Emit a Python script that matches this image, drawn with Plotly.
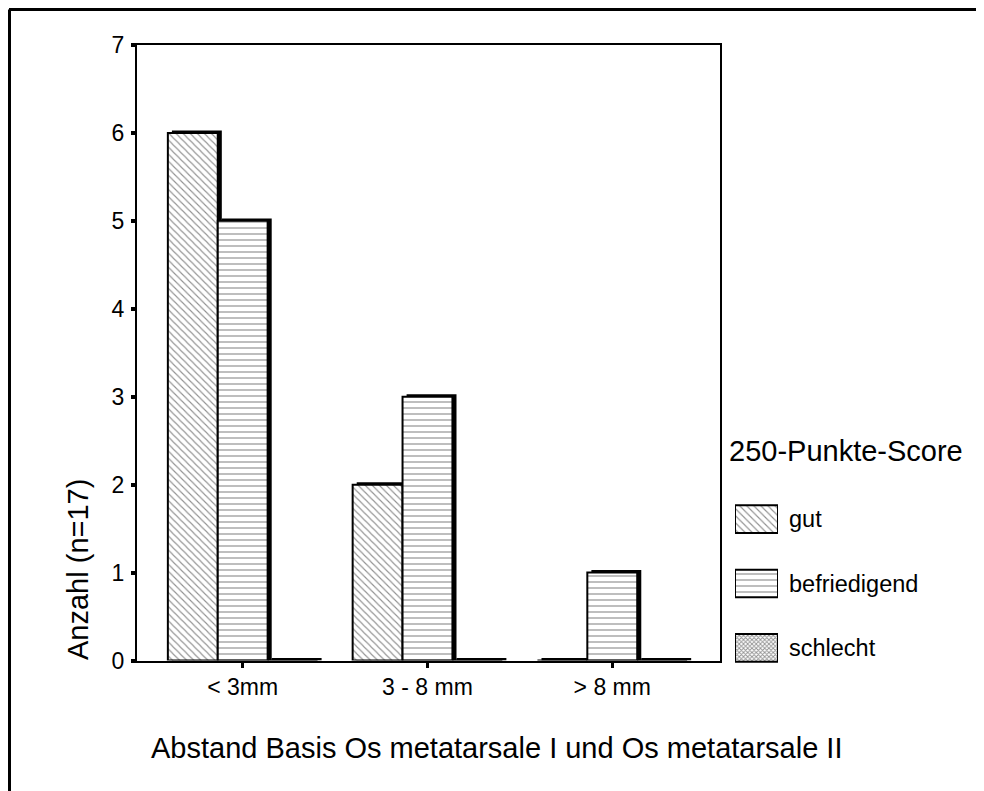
import plotly.graph_objects as go

# ---- data ----
categories = ["< 3mm", "3 - 8 mm", "> 8 mm"]
series_names = ["gut", "befriedigend", "schlecht"]
gut = [6, 2, 0]
befriedigend = [5, 3, 1]
schlecht = [0, 0, 0]
y_ticks = [0, 1, 2, 3, 4, 5, 6, 7]

values = {"gut": gut, "befriedigend": befriedigend, "schlecht": schlecht}

# page offset (body margin) compensation: figure drawn from (OFF, OFF)
OFF = 8
W, H = 984 - 2 * OFF, 791 - OFF
FONT = "Liberation Sans, Arial, sans-serif"


def fx(px):
    return (px - OFF) / W


def fy(py):
    return 1 - (py - OFF) / H


# plot frame in reference pixels
PX_L, PX_R, PX_T, PX_B = 137, 720, 45, 660.5

patterns = {
    "gut": dict(shape="\\", size=5, solidity=0.22, fgcolor="#222", bgcolor="white"),
    "befriedigend": dict(shape="-", size=6, solidity=0.2, fgcolor="#222", bgcolor="white"),
    "schlecht": dict(shape="x", size=3, solidity=0.5, fgcolor="#222", bgcolor="white"),
}

bar_w = 0.27
offsets = {"gut": -1.5 * bar_w, "befriedigend": -0.5 * bar_w, "schlecht": 0.5 * bar_w}
shadow_dx = 0.022
shadow_dy = 0.028

fig = go.Figure()

for name in series_names:
    fig.add_trace(go.Bar(
        x=[0, 1, 2], y=[v + shadow_dy for v in values[name]],
        offset=offsets[name] + shadow_dx, width=bar_w,
        marker=dict(color="black", line=dict(width=0)),
        showlegend=False, hoverinfo="skip", xaxis="x", yaxis="y",
    ))

for name in series_names:
    fig.add_trace(go.Bar(
        x=[0, 1, 2], y=values[name], name=name,
        offset=offsets[name], width=bar_w,
        marker=dict(color="white", pattern=patterns[name],
                    line=dict(color="black", width=2)),
        showlegend=False, xaxis="x", yaxis="y",
    ))

for name in series_names:
    fig.add_trace(go.Bar(
        x=[1], y=[name], orientation="h", base=0, width=0.43,
        marker=dict(color="white", pattern=patterns[name],
                    line=dict(color="black", width=2)),
        showlegend=False, hoverinfo="skip", xaxis="x3", yaxis="y3",
    ))

fig.update_layout(
    width=W, height=H,
    margin=dict(l=0, r=0, t=0, b=0, pad=0, autoexpand=False),
    paper_bgcolor="white", plot_bgcolor="white",
    barmode="overlay",
    showlegend=False,
    font=dict(family=FONT, color="black"),
    xaxis=dict(
        domain=[fx(PX_L), fx(PX_R)],
        range=[-0.572, 2.583],
        tickmode="array", tickvals=[0, 1, 2], ticktext=categories,
        ticks="outside", ticklen=5, tickwidth=3, tickcolor="black",
        tickfont=dict(size=23, family=FONT),
        showline=True, linecolor="black", linewidth=2, mirror=True,
        showgrid=False, zeroline=False, anchor="y", automargin=False,
    ),
    yaxis=dict(
        domain=[fy(PX_B), fy(PX_T)],
        range=[0, 7],
        tickmode="array", tickvals=y_ticks,
        ticks="outside", ticklen=4, tickwidth=4, tickcolor="black",
        tickfont=dict(size=23, family=FONT),
        ticklabelstandoff=2,
        showline=True, linecolor="black", linewidth=2, mirror=True,
        showgrid=False, zeroline=False, anchor="x", automargin=False,
    ),
    xaxis3=dict(
        domain=[fx(735), fx(778)], range=[0, 1], visible=False,
        anchor="y3", fixedrange=True, automargin=False,
    ),
    yaxis3=dict(
        domain=[fy(680), fy(487)],
        type="category", categoryorder="array",
        categoryarray=["schlecht", "befriedigend", "gut"],
        side="right", anchor="x3", showline=False, showgrid=False,
        zeroline=False, ticks="", ticklabelstandoff=10,
        tickfont=dict(size=23.5, family=FONT), fixedrange=True,
        automargin=False,
    ),
    annotations=[
        dict(text="Abstand Basis Os metatarsale I und Os metatarsale II",
             x=fx(497), y=fy(748), xref="paper", yref="paper",
             xanchor="center", yanchor="middle", showarrow=False,
             font=dict(size=29, family=FONT)),
        dict(text="Anzahl (n=17)", textangle=-90,
             x=fx(78), y=fy(570), xref="paper", yref="paper",
             xanchor="center", yanchor="middle", showarrow=False,
             font=dict(size=29, family=FONT)),
        dict(text="250-Punkte-Score",
             x=fx(727), y=fy(451), xref="paper", yref="paper",
             xanchor="left", yanchor="middle", showarrow=False,
             font=dict(size=29, family=FONT)),
    ],
    shapes=[
        dict(type="line", xref="paper", yref="paper",
             x0=fx(9), x1=1.05, y0=fy(9.5), y1=fy(9.5),
             line=dict(color="black", width=3)),
        dict(type="line", xref="paper", yref="paper",
             x0=fx(9.5), x1=fx(9.5), y0=fy(9.5), y1=-0.05,
             line=dict(color="black", width=3)),
    ],
)

fig.write_html("out.html")
